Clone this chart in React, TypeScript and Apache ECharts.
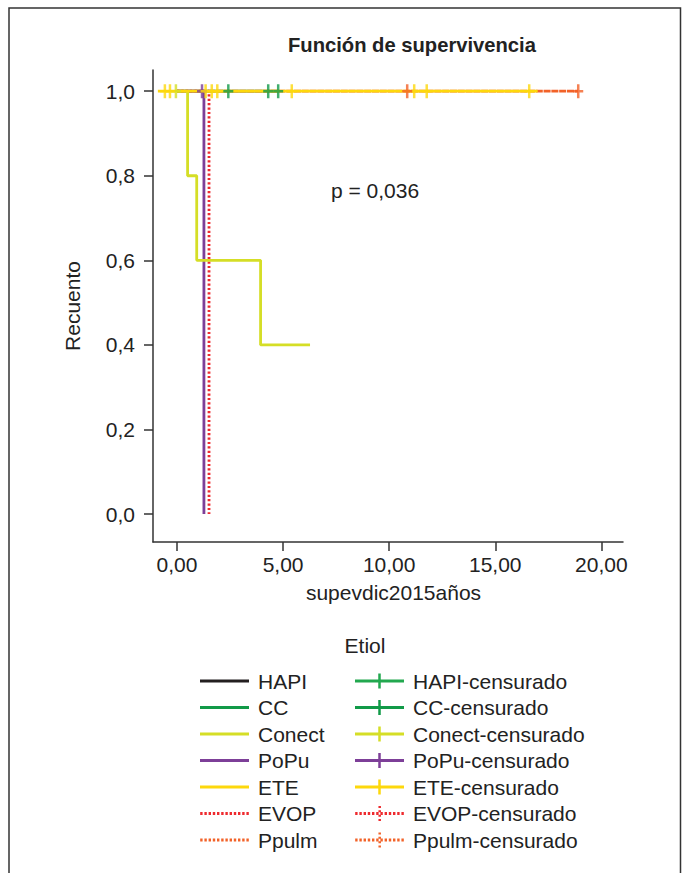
import React, { useEffect, useRef } from 'react';
import * as echarts from 'echarts';

const titleText = 'Función de supervivencia';
const xAxisName = 'supevdic2015años';
const yAxisName = 'Recuento';
const legendTitle = 'Etiol';
const pValueText = 'p = 0,036';

const groups = ['HAPI', 'CC', 'Conect', 'PoPu', 'ETE', 'EVOP', 'Ppulm'];
const censoredSuffix = '-censurado';
const xTicks = [0, 5, 10, 15, 20];
const yTicks = [0, 0.2, 0.4, 0.6, 0.8, 1.0];

// Kaplan-Meier step curves: [time, survival]
const hapiCurve: number[][] = [];
const ccCurve = [[0, 1], [4.77, 1]];
const conectCurve = [[0, 1], [0.5, 0.8], [0.93, 0.6], [3.94, 0.4], [6.27, 0.4]];
const popuCurve = [[0, 1], [1.27, 0]];
const eteCurve = [[-0.9, 1], [17.0, 1]];
const evopCurve = [[0, 1], [1.51, 0]];
const ppulmCurve = [[0, 1], [18.91, 1]];

// censored observations: [time, survival]
const hapiCens: number[][] = [];
const ccCens = [[2.42, 1], [4.3, 1], [4.77, 1]];
const conectCens = [[-0.05, 1]];
const popuCens = [[1.18, 1]];
const eteCens = [[-0.57, 1], [-0.33, 1], [1.35, 1], [1.64, 1], [1.9, 1], [5.41, 1], [11.18, 1], [11.77, 1], [16.6, 1]];
const evopCens: number[][] = [];
const ppulmCens = [[10.85, 1], [18.91, 1]];

const curves = [hapiCurve, ccCurve, conectCurve, popuCurve, eteCurve, evopCurve, ppulmCurve];
const censored = [hapiCens, ccCens, conectCens, popuCens, eteCens, evopCens, ppulmCens];

// styles
const lineColors = ['#231f20', '#119a48', '#d5de26', '#7d3f98', '#fdd80c', '#ee2a2e', '#f26228'];
const censColors = ['#22a84f', '#119a48', '#d5de26', '#7d3f98', '#fdd80c', '#ee2a2e', '#f26228'];
const dottedGroups = ['EVOP', 'Ppulm'];
const lineDash: Record<string, number[]> = { EVOP: [2.2, 2.2], Ppulm: [7, 0.8] };
const zOrder = [1, 1, 5, 4, 6, 3, 2];
const FONT = 'Liberation Sans, Arial, Helvetica, sans-serif';
const TEXT = '#222';
const AXIS = '#333';
const FS = 21;

const plusSymbol = 'path://M0,5.75H3.75V0H6.25V5.75H10V8.25H6.25V14H3.75V8.25H0Z';

function rectPath(x: number, y: number, w: number, h: number) {
  return `M${x},${y}H${x + w}V${y + h}H${x}Z`;
}
function solidLineIcon() {
  return 'path://' + rectPath(0, 0, 49, 3);
}
function dottedLineIcon() {
  let d = '';
  for (let i = 0; i < 12; i++) d += rectPath(i * 4.2, 0, 2.4, 3);
  return 'path://' + d;
}
function plusIcon() {
  return 'path://' + rectPath(0, 6, 49, 3) + rectPath(23.25, 0, 2.5, 15);
}
function dottedPlusIcon() {
  let d = '';
  for (let i = 0; i < 12; i++) d += rectPath(i * 4.2, 6, 2.4, 3);
  for (let j = 0; j < 4; j++) d += rectPath(23.25, j * 4.33, 2.5, 2);
  return 'path://' + d;
}

export default function App() {
  const ref = useRef<HTMLDivElement>(null);
  useEffect(() => {
    if (!ref.current) return;
    const chart = echarts.init(ref.current, undefined, { renderer: 'svg' });

    const lineSeries = groups.map((g, i) => ({
      name: g,
      type: 'line',
      data: curves[i],
      step: 'end',
      symbol: 'none',
      color: lineColors[i],
      z: zOrder[i],
      lineStyle: {
        color: lineColors[i],
        width: 2.8,
        type: lineDash[g] || 'solid',
      },
      silent: true,
    }));
    const censSeries = groups.map((g, i) => ({
      name: g + censoredSuffix,
      type: 'scatter',
      data: censored[i],
      symbol: plusSymbol,
      symbolSize: [10, 14],
      color: censColors[i],
      itemStyle: { color: censColors[i] },
      z: 10,
      silent: true,
    }));

    const legendText = {
      fontSize: FS,
      lineHeight: FS,
      color: TEXT,
      fontFamily: FONT,
      padding: [0, 0, 0, 4],
    };

    chart.setOption({
      animation: false,
      backgroundColor: '#fff',
      textStyle: { fontFamily: FONT },
      title: {
        text: titleText,
        left: 288,
        top: 35,
        padding: 0,
        textStyle: { fontSize: 20.2, lineHeight: 20, fontWeight: 'bold', color: TEXT, fontFamily: FONT },
      },
      grid: { left: 153, right: 65, top: 70, bottom: 331, containLabel: false },
      xAxis: {
        type: 'value',
        min: -1.13,
        max: 21.02,
        splitLine: { show: false },
        axisLine: { show: true, onZero: false, lineStyle: { color: AXIS, width: 1.5 } },
        axisTick: { show: true, length: 9, customValues: xTicks, lineStyle: { color: AXIS, width: 1.5 } },
        axisLabel: {
          customValues: xTicks,
          formatter: (v: number) => v.toFixed(2).replace('.', ','),
          margin: 11.5,
          fontSize: FS,
          lineHeight: FS,
          color: TEXT,
          fontFamily: FONT,
        },
        name: xAxisName,
        nameLocation: 'middle',
        nameGap: 40,
        nameTextStyle: { fontSize: FS, lineHeight: FS, color: TEXT, fontFamily: FONT, padding: [0, 0, 0, 11] },
      },
      yAxis: {
        type: 'value',
        min: -0.066,
        max: 1.05,
        splitLine: { show: false },
        axisLine: { show: true, onZero: false, lineStyle: { color: AXIS, width: 1.5 } },
        axisTick: { show: true, length: 9, customValues: yTicks, lineStyle: { color: AXIS, width: 1.5 } },
        axisLabel: {
          customValues: yTicks,
          formatter: (v: number) => v.toFixed(1).replace('.', ','),
          margin: 18,
          fontSize: FS,
          lineHeight: FS,
          color: TEXT,
          fontFamily: FONT,
        },
        name: yAxisName,
        nameLocation: 'middle',
        nameGap: 70,
        nameRotate: 90,
        nameTextStyle: { fontSize: FS, lineHeight: FS, color: TEXT, fontFamily: FONT },
      },
      legend: [
        {
          orient: 'vertical',
          left: 200,
          top: 670.5,
          padding: 0,
          itemGap: 5.5,
          itemWidth: 49,
          itemHeight: 3,
          selectedMode: false,
          textStyle: legendText,
          data: groups.map((g, i) => ({
            name: g,
            icon: dottedGroups.includes(g) ? dottedLineIcon() : solidLineIcon(),
            itemStyle: { color: lineColors[i], borderWidth: 0, opacity: 1 },
          })),
        },
        {
          orient: 'vertical',
          left: 355,
          top: 670.5,
          padding: 0,
          itemGap: 5.5,
          itemWidth: 49,
          itemHeight: 15,
          selectedMode: false,
          textStyle: legendText,
          data: groups.map((g, i) => ({
            name: g + censoredSuffix,
            icon: dottedGroups.includes(g) ? dottedPlusIcon() : plusIcon(),
            itemStyle: { color: censColors[i], borderWidth: 0, opacity: 1 },
          })),
        },
      ],
      graphic: [
        {
          type: 'rect',
          silent: true,
          z: -10,
          shape: { x: 9, y: 8, width: 671.5, height: 900 },
          style: { fill: 'none', stroke: AXIS, lineWidth: 1.5 },
        },
        {
          type: 'text',
          x: 375,
          y: 190,
          style: { text: pValueText, fontSize: FS, fill: TEXT, fontFamily: FONT, textAlign: 'center', textVerticalAlign: 'middle' },
        },
        {
          type: 'text',
          x: 365,
          y: 645,
          style: { text: legendTitle, fontSize: FS, fill: TEXT, fontFamily: FONT, textAlign: 'center', textVerticalAlign: 'middle' },
        },
      ],
      series: [...lineSeries, ...censSeries],
    });
    return () => chart.dispose();
  }, []);
  return <div ref={ref} style={{ position: 'absolute', left: 0, top: 0, width: 688, height: 873 }} />;
}
